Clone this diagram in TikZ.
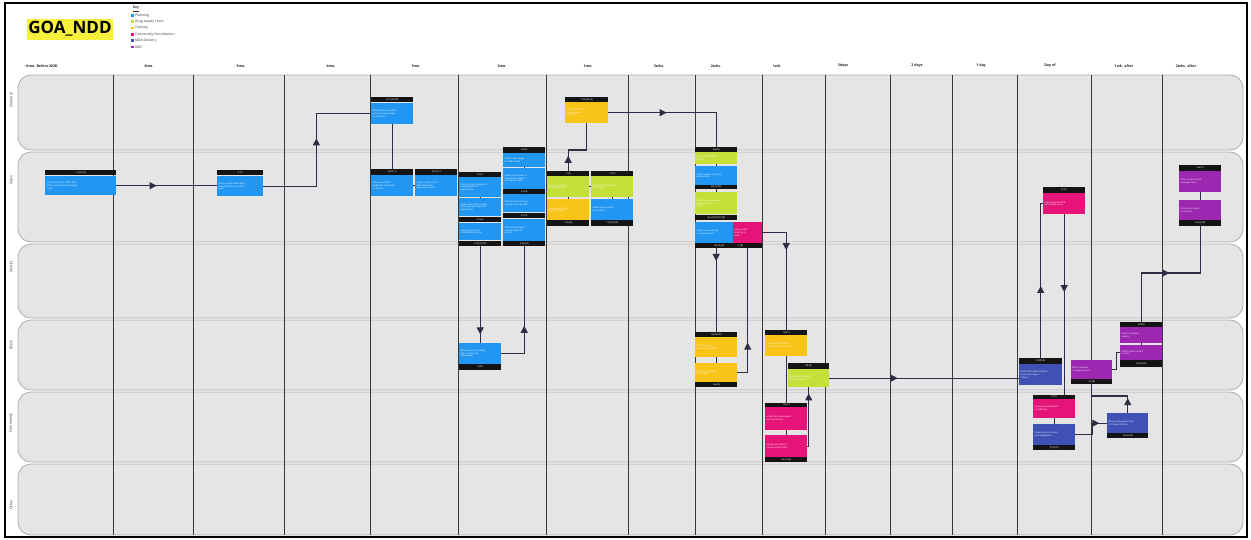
\documentclass[tikz,border=0pt]{standalone}
\usepackage{fontspec}
\setmainfont{Open Sans}
\usetikzlibrary{arrows.meta,decorations.markings}
\definecolor{plan}{RGB}{33,150,243}
\definecolor{drug}{RGB}{198,224,58}
\definecolor{train}{RGB}{248,196,24}
\definecolor{comm}{RGB}{230,20,120}
\definecolor{mda}{RGB}{63,81,181}
\definecolor{rr}{RGB}{156,39,176}
\definecolor{lanegray}{RGB}{229,229,229}
\definecolor{linkc}{RGB}{45,45,70}
\definecolor{hilite}{RGB}{246,240,60}

\begin{document}
\begin{tikzpicture}[x=1pt, y=-1pt,
  lane/.style={draw=black!32, fill=lanegray, rounded corners=13pt, line width=0.8pt},
  lanelbl/.style={rotate=90, font=\fontsize{3.6}{4}\selectfont, text=black!80},
  colline/.style={draw=black!78, line width=0.9pt},
  colhdr/.style={font=\bfseries\fontsize{3.6}{4}\selectfont, text=black!85},
  bar/.style={fill=black!92, text=white, font=\fontsize{2.4}{2.8}\selectfont, anchor=north west, inner sep=0pt, minimum width=#1, minimum height=5pt},
  bar/.default=42pt,
  cell/.style={fill=#1, text=white, font=\fontsize{2.2}{2.7}\selectfont, anchor=north west, inner sep=1.5pt, text width=39pt, align=left},
  keysq/.style={fill=#1, minimum width=3.5pt, minimum height=2.6pt, inner sep=0pt},
  keytxt/.style={font=\fontsize{3.4}{4}\selectfont, anchor=west, inner sep=0.5pt, text=black!80},
  link/.style={draw=linkc, line width=1.1pt},
  tipat/.style={postaction={decorate}, decoration={markings, mark=at position #1 with {\arrow{Triangle[length=7pt,width=7pt]}}}}]
  \useasboundingbox[fill=white] (0,0) rectangle (1251,539);
  \draw[black, line width=1.2pt] (5,3) rectangle (1247,537);

  % title and key
  \node[fill=hilite, font=\bfseries\fontsize{17}{18}\selectfont, inner sep=1.5pt, minimum width=86pt, minimum height=21pt] (title) at (70,29) {GOA\_NDD};
  \node[font=\bfseries\fontsize{3.4}{4}\selectfont, text=black!80] (key) at (136,9) {\underline{Key}};
  \foreach \c/\t [count=\i] in {plan/Planning, drug/Drug supply chain, train/Training, comm/Community Sensitization, mda/MDA Delivery, rr/R\&R}{
    \node[keysq=\c] (sq\i) at (132.5,9+6.3*\i) {};
    \node[keytxt] (kt\i) at (sq\i.east) {\t};
  }

  % time columns
  \foreach \hx/\htxt [count=\i] in {41/{\textasciitilde 6mo. Before NDD}, 149/6mo., 241/5mo., 331/4mo., 416/3mo., 502/2mo., 588/1mo., 659/3wks., 716/2wks., 777/1wk., 843/3days, 917/2 days, 981/1 day, 1050/Day of, 1124/1wk. after, 1186/2wks. after}
    \node[colhdr] (hdr\i) at (\hx,66) {\htxt};

  % swim lanes
  \foreach \ya/\yb/\lbl/\ly in {75/150/National/100, 152/242/State/180, 244/318/District/267, 320/390/Block/345, 392/462/Community/423, 464/535/Other/505}{
    \draw[lane] (18,\ya) rectangle (1243,\yb);
    \node[lanelbl] (lbl\lbl) at (11,\ly) {\lbl};
  }
  \foreach \cx in {113,193,284,370,458,546,628,695,762,825,890,952,1017,1091,1162}
    \draw[colline] (\cx,75) -- (\cx,535);

  % ~6mo - 3mo
  \node[bar=71pt] (A0) at (45,170) {\textasciitilde 6.(N).(R)};
  \node[cell=plan, text width=68pt, minimum height=19pt] (A) at (45,176) {State NDD nodal officer fixes\\NDD round dates and budget\\in PIP};
  \node[bar=46pt] (B0) at (217,170) {6.(S)};
  \node[cell=plan, text width=43pt, minimum height=20pt] (B) at (217,176) {State requests NDD drug\\quantities from national\\level};
  \node[bar] (C0) at (371,97) {3.15.(N).(R)};
  \node[cell=plan, minimum height=21pt] (C) at (371,103) {MoHFW approves NDD\\plan and drug supply\\for the state};
  \node[bar, minimum height=6pt] (D0) at (371,169) {3.(S).1-2};
  \node[cell=plan, minimum height=21pt] (D) at (371,175) {State issues NDD\\guidelines and letters\\to districts};
  \node[bar, minimum height=6pt] (E0) at (415,169) {3.(S).3-4};
  \node[cell=plan, minimum height=21pt] (E) at (415,175) {Letter to districts on\\NDD dates and\\reporting formats};

  % 2mo
  \node[bar] (F0) at (459,172) {2.(S).1};
  \node[cell=plan, minimum height=20pt] (F1) at (459,177) {State steering committee\\meeting with line\\departments};
  \node[cell=plan, minimum height=18pt] (F2) at (459,198) {State nodal officer shares\\NDD plan with education\\department};
  \node[bar] (F3) at (459,217) {2.(S).2};
  \node[cell=plan, minimum height=17pt] (F4) at (459,223) {State prepares IEC\\materials and forms};
  \node[bar] (F5) at (459,241) {2.(S).(N).(R)};
  \node[bar, minimum height=6pt] (G0) at (503,147) {2.(S).3};
  \node[cell=plan, minimum height=14pt] (G1) at (503,153) {State orders drugs\\for NDD round};
  \node[cell=plan, minimum height=21pt] (G2) at (503,168) {State procurement of\\albendazole tablets\\and logistics plan};
  \node[bar] (G3) at (503,189) {2.(S).4};
  \node[cell=plan, minimum height=18pt] (G4) at (503,194) {State finalises training\\calendar and cascade};
  \node[bar] (G5) at (503,213) {2.(S).5};
  \node[cell=plan, minimum height=22pt] (G6) at (503,219) {State sends budget\\release letters to\\districts};
  \node[bar] (G7) at (503,241) {2.(B).(R)};
  \node[cell=plan, minimum height=21pt] (H) at (459,343) {Block planning meeting\\with schools and\\anganwadis};
  \node[bar, minimum height=6pt] (H1) at (459,364) {2.(B)};

  % 1mo
  \node[bar=43pt] (I0) at (565,97) {1.(N).(R).(S)};
  \node[cell=train, text width=40pt, minimum height=21pt] (I) at (565,102) {National TOT for\\state resource\\persons};
  \node[bar] (K0) at (547,171) {1.(S)};
  \node[cell=drug, minimum height=21pt] (K1) at (547,176) {Drugs received at\\state warehouse};
  \node[cell=train, minimum height=21pt] (K2) at (547,199) {State level training of\\district officials};
  \node[bar, minimum height=6pt] (K3) at (547,220) {1.(S).(R)};
  \node[bar] (L0) at (591,171) {1.(S).2};
  \node[cell=drug, minimum height=21pt] (L1) at (591,176) {Drug distribution plan\\to districts};
  \node[cell=plan, minimum height=21pt] (L2) at (591,199) {State reviews district\\micro-plans};
  \node[bar, minimum height=6pt] (L3) at (591,220) {1.(S).(N).(R)};

  % 2wks - 1wk
  \node[bar] (J0) at (695,147) {2w.(S)};
  \node[cell=drug, minimum height=12pt] (J1) at (695,152) {Drugs dispatched to\\districts};
  \node[cell=plan, minimum height=19pt] (J2) at (695,166) {State reviews drug stock\\with districts};
  \node[bar, minimum height=4pt] (J3) at (695,185) {2w.(S).(D)};
  \node[cell=drug, minimum height=22pt] (J4) at (695,192) {District receives drugs\\and dispatches to\\blocks};
  \node[bar] (J5) at (695,215) {2w.(S).(N).(D).(R)};
  \node[cell=plan, text width=35pt, minimum height=21pt] (J6) at (695,222) {State review meeting\\on preparedness};
  \node[cell=comm, text width=26pt, minimum height=21pt] (M) at (733,222) {State media\\briefing on\\NDD};
  \node[bar=67pt] (J7) at (695,243) {2w.(S).(R)\hspace{14pt}T.(R)};
  \node[bar] (N0) at (695,332) {1w.(B).(D)};
  \node[cell=train, minimum height=20pt] (N1) at (695,337) {Block training of\\teachers and AWWs};
  \node[cell=train, minimum height=19pt] (N2) at (695,363) {Block trains ANMs\\and ASHAs};
  \node[bar] (N3) at (695,382) {1w.(B)};
  \node[bar] (O0) at (765,330) {1w.(C)};
  \node[cell=train, minimum height=21pt] (O) at (765,335) {Training of ASHAs on\\community mobilisation};
  \node[bar=41pt, minimum height=6pt] (P0) at (788,363) {3d.(B)};
  \node[cell=drug, text width=38pt, minimum height=18pt] (P) at (788,369) {Drugs reach schools\\and anganwadis};
  \node[bar, minimum height=4pt] (R0) at (765,403) {1w.(C)};
  \node[cell=comm, minimum height=23pt] (R1) at (765,407) {ASHAs sensitise parents\\and community};
  \node[cell=comm, minimum height=22pt] (R2) at (765,435) {Miking and rallies in\\villages before NDD};
  \node[bar] (R3) at (765,457) {1w.(C).(R)};

  % day of - 2wks after
  \node[bar, minimum height=6pt] (S0) at (1043,187) {D.(S)};
  \node[cell=comm, minimum height=21pt] (S) at (1043,193) {State launches NDD\\with media event};
  \node[bar=43pt, minimum height=6pt] (Q0) at (1019,358) {D.(B).(R)};
  \node[cell=mda, text width=40pt, minimum height=21pt] (Q) at (1019,364) {Block NDD administration\\and monitoring in\\schools};
  \node[bar, minimum height=4pt] (T0) at (1033,395) {D.(C)};
  \node[cell=comm, minimum height=19pt] (T) at (1033,399) {Community awareness\\on NDD day};
  \node[cell=mda, minimum height=21pt] (U) at (1033,424) {Deworming at schools\\and anganwadis};
  \node[bar] (U1) at (1033,445) {D.(C).(R)};
  \node[cell=rr, text width=38pt, minimum height=19pt] (V) at (1071,360) {Block compiles\\coverage reports};
  \node[bar=41pt] (V1) at (1071,379) {1w.(B)};
  \node[bar] (W0) at (1120,322) {1w.(D)};
  \node[cell=rr, minimum height=16pt] (W1) at (1120,327) {District compiles\\reports};
  \node[cell=rr, minimum height=15pt] (W2) at (1120,345) {District sends report\\to state};
  \node[bar, minimum height=7pt] (W3) at (1120,360) {1w.(D).(R)};
  \node[bar, minimum height=6pt] (X0) at (1179,165) {2w.(S)};
  \node[cell=rr, minimum height=21pt] (X1) at (1179,171) {State compiles NDD\\coverage report};
  \node[cell=rr, minimum height=20pt] (X2) at (1179,200) {State sends report\\to national};
  \node[bar, minimum height=6pt] (X3) at (1179,220) {2w.(S).(R)};
  \node[cell=mda, text width=38pt, minimum height=20pt] (Y) at (1107,413) {Mop-up day deworming\\of missed children};
  \node[bar=41pt] (Y1) at (1107,433) {1w.(C).(R)};

  % links inside stacks
  \foreach \u/\v in {F1/F2, G1/G2, K1/K2, L1/L2, J1/J2, J2/J3, J3/J4, N1/N2, R1/R2, O/R0, T/U, W1/W2, X1/X2}
    \draw[link, line width=0.8pt] (\u.south) -- (\v.north);
  \draw[link, line width=0.8pt] (D.east) -- (E.west);
  \draw[link, line width=0.8pt] (K1.east) -- (L1.west);

  % flow
  \draw[link, tipat=0.40] (A.east) -- (A.east -| B.west);
  \draw[link, tipat=0.56] (B.east) -- ++(53,0) |- (C.west);
  \draw[link] (C.south) -- (D0.north);
  \draw[link, tipat=0.91] (F5.south) -- (H.north);
  \draw[link, tipat=0.39] (H.east) -| (G7.south);
  \draw[link, tipat=0.41] (I.east) -| (J0.north);
  \draw[link, tipat=0.23] (K0.north) -- ++(0,-21) -| (I.south);
  \draw[link, tipat=0.15] (N0.north |- J7.south) -- (N0.north);
  \draw[link, tipat=0.30] (N2.east) -| (J7.south -| M.south);
  \draw[link, tipat=0.34] (M.east) -| (O0.north);
  \draw[link, tipat=0.90] (R2.east) -| (P.south);
  \draw[link, tipat=0.36] (P.east) -- (P.east -| Q.west);
  \draw[link, tipat=0.46] (Q0.north) |- (S.west);
  \draw[link, tipat=0.43] (S.south) -- (S.south |- T0.north);
  \draw[link, tipat=0.82] (U.east) -- ++(17,0) |- (Y.west);
  \draw[link, tipat=0.23] (Y.north) -- ++(0,-17) -| (V1.south);
  \draw[link, line width=0.8pt] (V.east) -- ++(4,0) |- (W2.west);
  \draw[link, tipat=0.50] (W0.north) -- ++(0,-49) -| (X3.south);
\end{tikzpicture}
\end{document}
